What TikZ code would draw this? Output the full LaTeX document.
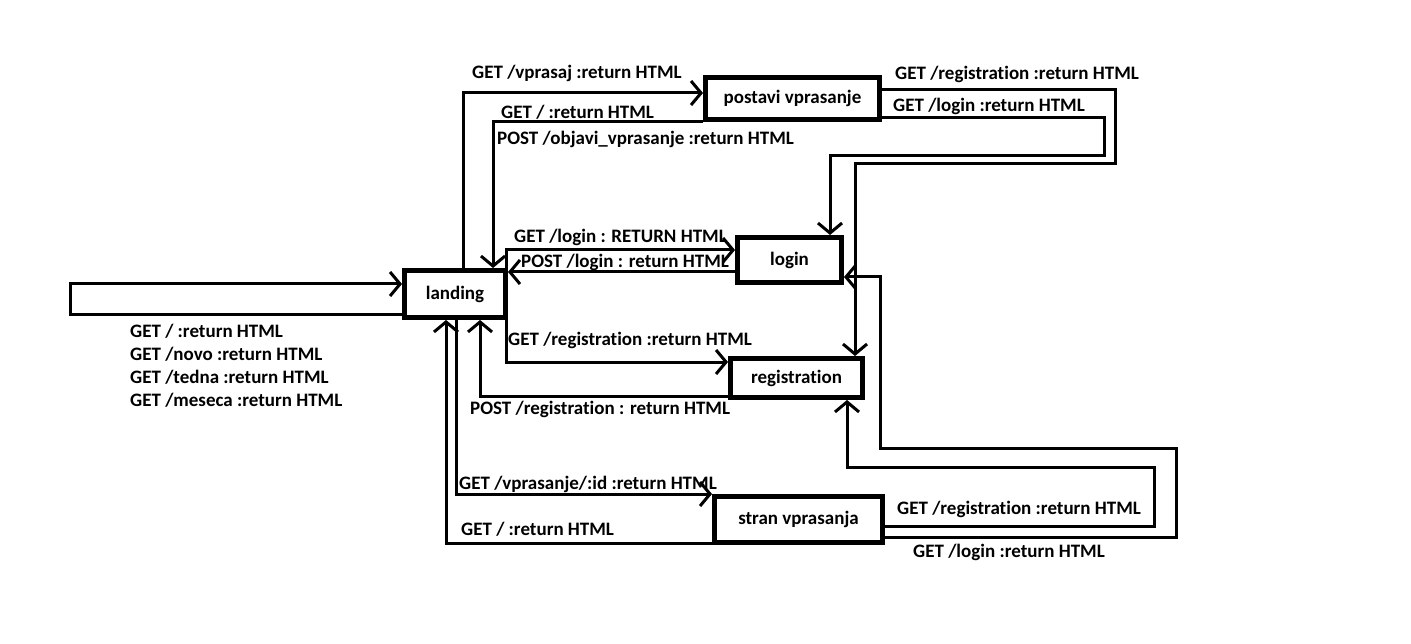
\documentclass[tikz,border=0pt]{standalone}
\usepackage{fontspec}
\setmainfont{Carlito}[Ligatures={NoCommon, NoContextual}]
\usepackage{tikz}
\usetikzlibrary{arrows.meta, positioning}

\tikzset{
  page/.style={x=1pt, y=-1pt},
  box/.style={draw, line width=5pt, inner sep=0pt},
  flow/.style={->, line width=3pt, line join=miter},
  lbl/.style={anchor=west, inner sep=0pt}
}

\begin{document}
\begin{tikzpicture}[page, >={Straight Barb[length=10pt, width=24pt]},
          font=\bfseries\fontsize{19}{22}\selectfont]
        \useasboundingbox (0,0) rectangle (1411,644);
        % pages
        \node[box, minimum width=101pt, minimum height=47pt] (landing) at (455,294) {landing};
        \node[box, minimum width=174pt, minimum height=42pt] (postavi) at (792.5,98.5) {postavi vprasanje};
        \node[box, minimum width=104pt, minimum height=45pt] (login) at (789.5,260) {login};
        \node[box, minimum width=132pt, minimum height=39pt] (registration) at (796.5,378) {registration};
        \node[box, minimum width=168pt, minimum height=46pt] (stran) at (798.5,519.5) {stran vprasanja};

        % entry
        \draw[flow] (landing.west |- 0,315) -- (70,315) -- (70,284) -- (landing.west |- 0,284);
        \foreach \i/\t in {0/{GET / :return HTML}, 1/{GET /novo :return HTML},
                           2/{GET /tedna :return HTML}, 3/{GET /meseca :return HTML}}{
          \node[lbl] (e\i) at (130,331+23*\i) {\t};
        }

        % landing <-> postavi vprasanje
        \draw[flow] (463,0 |- landing.north) -- (463,93) -- (postavi.west |- 0,93);
        \node[lbl] (lq) at (472,73) {GET /vprasaj :return HTML};
        \draw[flow] (postavi.south west) -- (493,0 |- postavi.south west) -- (493,0 |- landing.north);
        \node[lbl] (lqa) at (501,112) {GET / :return HTML};
        \node[lbl] (lqb) at (497,139) {POST /objavi\_vprasanje :return HTML};

        % postavi vprasanje -> registration, login
        \draw[flow] (postavi.east |- 0,90) -- (1115,90) -- (1115,164) -- (855,164)
              -- (855,0 |- registration.north);
        \node[lbl] (lqr) at (895,74) {GET /registration :return HTML};
        \draw[flow] (postavi.east |- 0,118) -- (1104,118) -- (1104,156) -- (830,156)
              -- (830,0 |- login.north);
        \node[lbl] (lql) at (893,106) {GET /login :return HTML};

        % landing <-> login
        \draw[flow] (506,0 |- landing.north) -- (506,250) -- (login.west |- 0,250);
        \node[lbl] (ll) at (514,237) {GET /login : RETURN HTML};
        \draw[flow] (login.west |- 0,272) -- (landing.east |- 0,272);
        \node[lbl] (lla) at (521,262) {POST /login : return HTML};

        % landing <-> registration
        \draw[flow] (506,0 |- landing.south) -- (506,362) -- (registration.west |- 0,362);
        \node[lbl] (lr) at (508,340) {GET /registration :return HTML};
        \draw[flow] (registration.west |- 0,396) -- (480,396) -- (480,0 |- landing.south);
        \node[lbl] (lra) at (470,409) {POST /registration : return HTML};

        % landing <-> stran vprasanja
        \draw[flow] (456,0 |- landing.south) -- (456,494) -- (stran.north west);
        \node[lbl] (ls) at (459,484) {GET /vprasanje/:id :return HTML};
        \draw[flow] (stran.west |- 0,543) -- (446,543) -- (446,0 |- landing.south);
        \node[lbl] (lsa) at (461,529) {GET / :return HTML};

        % stran vprasanja -> registration, login
        \draw[flow] (stran.east |- 0,526) -- (1154,526) -- (1154,467) -- (847,467)
              -- (847,0 |- registration.south);
        \node[lbl] (lsr) at (897,509) {GET /registration :return HTML};
        \draw[flow] (stran.east |- 0,537) -- (1176,537) -- (1176,448) -- (880,448)
              -- (880,277) -- (login.east |- 0,277);
        \node[lbl] (lsl) at (913,552) {GET /login :return HTML};
      \end{tikzpicture}
\end{document}
